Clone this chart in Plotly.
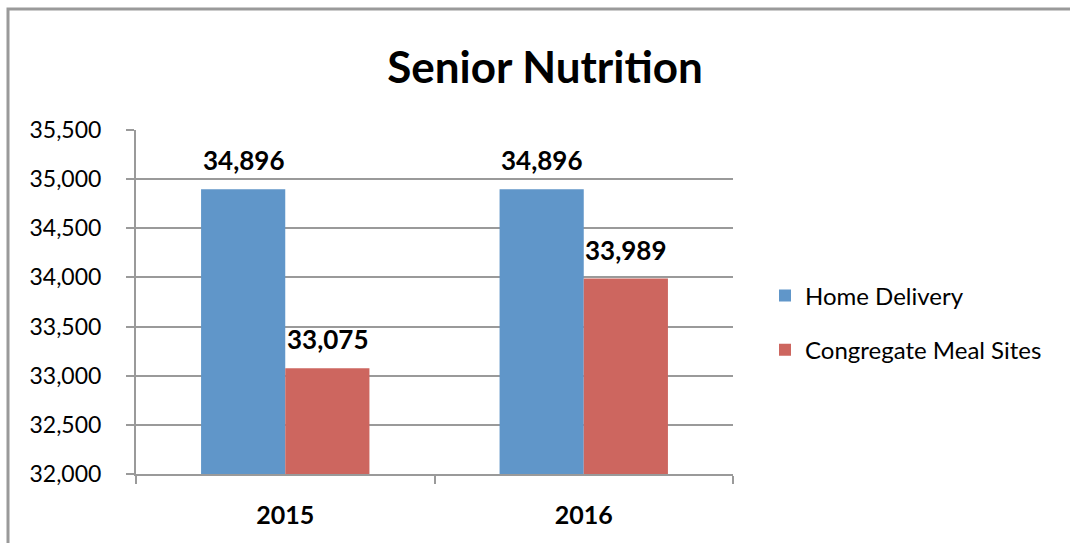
import plotly.graph_objects as go

anos = ["2015", "2016"]
home_delivery = [34896, 34896]
congregate = [33075, 33989]
y_ticks = [32000, 32500, 33000, 33500, 34000, 34500, 35000, 35500]

fonte = "Lato, Carlito, 'Open Sans', sans-serif"
cinza = "#9a9a9a"

fig = go.Figure()
fig.add_trace(go.Bar(x=anos, y=home_delivery, name="Home Delivery",
                     marker=dict(color="#6096c9", line=dict(width=0)),
                     legendgroup="a"))
fig.add_trace(go.Bar(x=anos, y=congregate, name="Congregate Meal Sites",
                     marker=dict(color="#cd665f", line=dict(width=0)),
                     legendgroup="b"))

# rotulos de valor acima das barras (x = indice da categoria)
for serie, desloc in [(home_delivery, -42), (congregate, 42)]:
    for i, valor in enumerate(serie):
        fig.add_annotation(x=i, y=valor, text="<b>{:,}</b>".format(valor),
                           showarrow=False, xshift=desloc, yshift=29,
                           yanchor="middle",
                           font=dict(size=26, color="black", family=fonte))

# moldura cinza em volta do grafico (so esquerda e topo aparecem)
largura = 1070 - 136 - 337
altura = 543 - 130 - 69
fig.add_shape(type="rect", xref="paper", yref="paper",
              x0=(8 - 136) / largura, x1=(1090 - 136) / largura,
              y0=-(80) / altura, y1=1 + (130 - 9) / altura,
              line=dict(color=cinza, width=3), layer="below")

fig.update_layout(
    width=1070, height=543,
    margin=dict(l=136, r=337, t=130, b=69, autoexpand=False),
    paper_bgcolor="white", plot_bgcolor="white",
    barmode="group", bargap=0.436, bargroupgap=0,
    title=dict(text="<b>Senior Nutrition</b>", x=(545 - 136) / largura, xref="paper",
               xanchor="center", y=1 - 68 / 543, yanchor="middle",
               font=dict(size=44, color="black", family=fonte)),
    font=dict(family=fonte, color="black"),
    legend=dict(x=(765 - 136) / largura, y=1 - (323 - 130) / altura,
                xanchor="left", yanchor="middle",
                font=dict(size=24, color="black"), tracegroupgap=20,
                traceorder="grouped", itemwidth=30),
    showlegend=True,
)
fig.update_xaxes(type="category", range=[-0.5, 1.5],
                 showline=True, linecolor=cinza, linewidth=2,
                 ticks="outside", tickson="boundaries", ticklen=8,
                 tickcolor=cinza, tickwidth=2, ticklabelstandoff=18,
                 tickfont=dict(size=25, family=fonte, color="black", weight="bold"),
                 showgrid=False, automargin=False)
fig.update_yaxes(range=[32000, 35500], tickvals=y_ticks, tickformat=",",
                 showline=True, linecolor=cinza, linewidth=2,
                 ticks="outside", ticklen=8, tickcolor=cinza, tickwidth=2,
                 ticklabelstandoff=20,
                 showgrid=True, gridcolor=cinza, gridwidth=2,
                 tickfont=dict(size=23, family=fonte, color="black"),
                 zeroline=False, automargin=False)

fig.write_html("out.html", config={"displayModeBar": False},
               post_script="document.body.style.margin='0';")
